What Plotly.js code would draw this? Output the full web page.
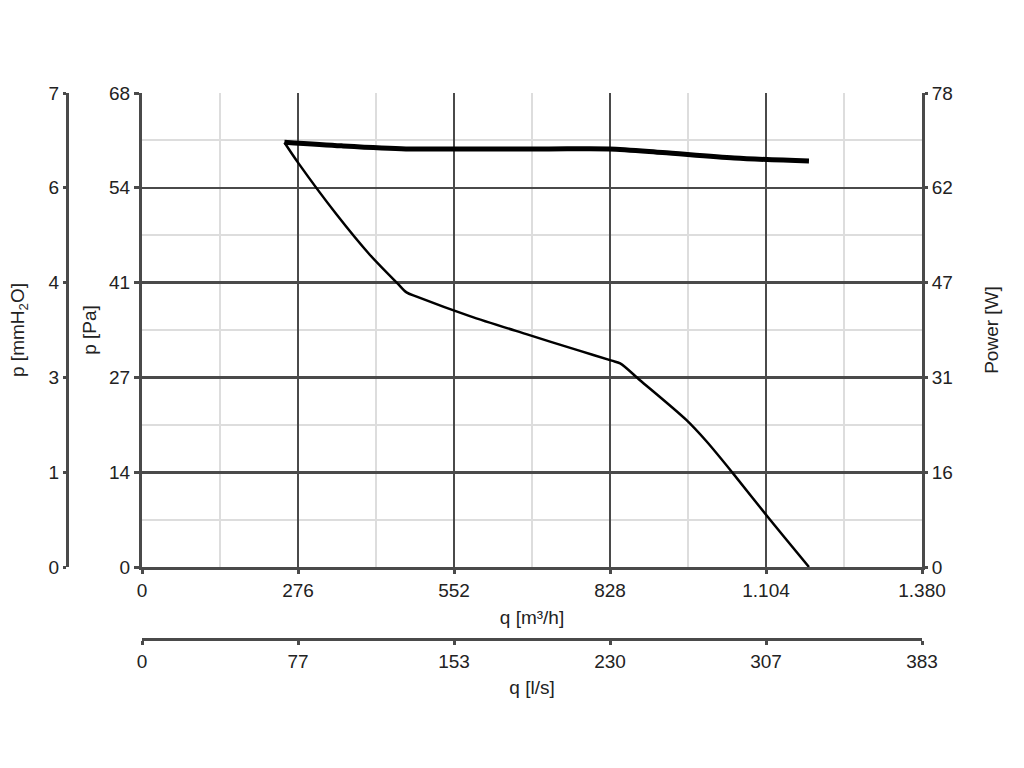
<!DOCTYPE html>
<html><head><meta charset="utf-8">
<script src="https://cdn.plot.ly/plotly-3.0.1.min.js"></script>
<style>html,body{margin:0;padding:0;background:#fff}#chart{width:1024px;height:768px}</style>
</head><body><div id="chart"></div>
<script>
// Data
const pressureFlow = [252, 277, 344, 403, 453, 468, 486, 580, 680, 775, 831, 846, 881, 963, 999, 1046, 1108, 1180]; // q [m3/h]
const pressurePa   = [60.9, 57.9, 50.6, 44.8, 40.6, 39.4, 38.8, 36.0, 33.4, 31.0, 29.6, 29.2, 26.8, 21.1, 18.0, 13.4, 7.1, 0];
const powerFlow    = [252, 353, 467, 600, 720, 827, 921, 1048, 1180]; // q [m3/h]
const powerW       = [69.9, 69.3, 68.8, 68.8, 68.8, 68.8, 68.2, 67.3, 66.8];

const qTickVals   = [0, 276, 552, 828, 1104, 1380];
const qTickText   = ["0", "276", "552", "828", "1.104", "1.380"];
const lsTickText  = ["0", "77", "153", "230", "307", "383"];
const paTickVals  = [0, 13.6, 27.2, 40.8, 54.4, 68];
const paTickText  = ["0", "14", "27", "41", "54", "68"];
const mmTickText  = ["0", "1", "3", "4", "6", "7"];
const wTickVals   = [0, 15.6, 31.2, 46.8, 62.4, 78];
const wTickText   = ["0", "16", "31", "47", "62", "78"];

const PA_PER_MMH2O = 9.80665;
const M3H_PER_LS = 3.6;

function mids(a){ const r=[]; for(let i=0;i<a.length-1;i++) r.push((a[i]+a[i+1])/2); return r; }

const AX = '#4a4a4a', MINOR = '#dddddd', TXT = '#222222';
const FONT = {family: 'Liberation Sans, Arial, sans-serif', size: 19, color: TXT};
const X0 = 142/1024, X1 = 922/1024, Y0 = 201/768, Y1 = 675/768;

const traces = [
  {x: pressureFlow, y: pressurePa, xaxis: 'x', yaxis: 'y', mode: 'lines',
   line: {color: '#000', width: 2.5, shape: 'spline', smoothing: 0.8}, hoverinfo: 'skip', showlegend: false},
  {x: powerFlow, y: powerW, xaxis: 'x', yaxis: 'y3', mode: 'lines',
   line: {color: '#000', width: 5, shape: 'spline', smoothing: 0.8}, hoverinfo: 'skip', showlegend: false},
  // same pressure curve expressed in l/s and mmH2O, invisible, so the secondary axes exist
  {x: pressureFlow.map(v => v/M3H_PER_LS), y: pressurePa.map(v => v/PA_PER_MMH2O), xaxis: 'x2', yaxis: 'y2', mode: 'lines',
   line: {color: 'rgba(0,0,0,0)', width: 0}, hoverinfo: 'skip', showlegend: false}
];

const layout = {
  width: 1024, height: 768,
  margin: {l: 0, r: 0, t: 0, b: 0},
  paper_bgcolor: '#fff', plot_bgcolor: '#fff',
  font: FONT, showlegend: false,
  xaxis: {
    domain: [X0, X1], range: [0, 1380], anchor: 'y',
    tickmode: 'array', tickvals: qTickVals, ticktext: qTickText,
    ticks: 'outside', ticklen: 4, tickwidth: 3, tickcolor: AX,
    showline: true, linecolor: AX, linewidth: 3,
    showgrid: true, gridcolor: AX, gridwidth: 2.6, zeroline: false,
    minor: {tickmode: 'array', tickvals: mids(qTickVals), showgrid: true, gridcolor: MINOR, gridwidth: 2, ticks: ''},
    title: {text: 'q [m³/h]', font: FONT, standoff: 11},
    tickfont: FONT
  },
  xaxis2: {
    domain: [X0, X1], range: [0, 1380/M3H_PER_LS], anchor: 'free', position: 129/768, overlaying: 'x', side: 'bottom',
    tickmode: 'array', tickvals: qTickVals.map(v => v/M3H_PER_LS), ticktext: lsTickText,
    ticks: 'outside', ticklen: 4, tickwidth: 3, tickcolor: AX,
    showline: true, linecolor: AX, linewidth: 3, showgrid: false, zeroline: false,
    title: {text: 'q [l/s]', font: FONT, standoff: 9},
    tickfont: FONT
  },
  yaxis: {
    domain: [Y0, Y1], range: [0, 68], anchor: 'x',
    tickmode: 'array', tickvals: paTickVals, ticktext: paTickText,
    ticks: 'outside', ticklen: 5, tickwidth: 3, tickcolor: AX,
    showline: true, linecolor: AX, linewidth: 3,
    showgrid: true, gridcolor: AX, gridwidth: 2.6, zeroline: false,
    minor: {tickmode: 'array', tickvals: mids(paTickVals), showgrid: true, gridcolor: MINOR, gridwidth: 2, ticks: ''},
    title: {text: 'p [Pa]', font: FONT, standoff: 8},
    tickfont: FONT
  },
  yaxis2: {
    domain: [Y0, Y1], range: [0, 68/PA_PER_MMH2O], anchor: 'free', position: 67/1024, overlaying: 'y', side: 'left',
    tickmode: 'array', tickvals: paTickVals.map(v => v/PA_PER_MMH2O), ticktext: mmTickText,
    ticks: 'outside', ticklen: 3, tickwidth: 3, tickcolor: AX,
    showline: true, linecolor: AX, linewidth: 3, showgrid: false, zeroline: false,
    title: {text: 'p [mmH<sub>2</sub>O]', font: FONT, standoff: 17},
    tickfont: FONT
  },
  yaxis3: {
    domain: [Y0, Y1], range: [0, 78], anchor: 'x', overlaying: 'y', side: 'right',
    tickmode: 'array', tickvals: wTickVals, ticktext: wTickText,
    ticks: 'outside', ticklen: 3, tickwidth: 3, tickcolor: AX,
    showline: true, linecolor: AX, linewidth: 3, showgrid: false, zeroline: false,
    title: {text: 'Power [W]', font: FONT, standoff: 33},
    tickfont: FONT
  }
};

Plotly.newPlot('chart', traces, layout, {staticPlot: true, displayModeBar: false});
</script>
</body></html>
